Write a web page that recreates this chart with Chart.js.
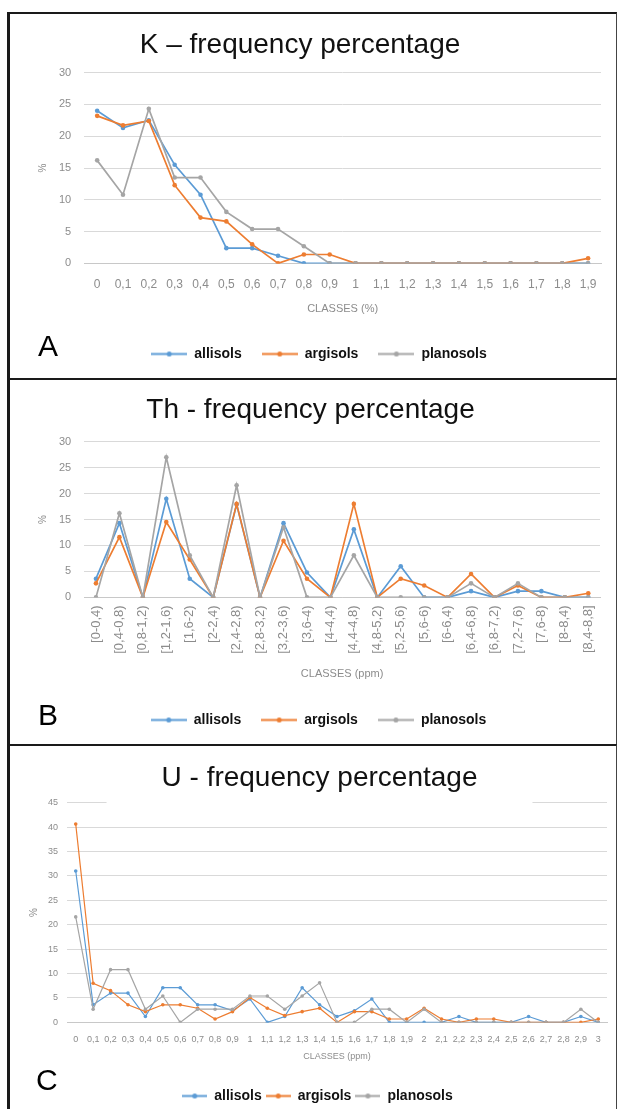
<!DOCTYPE html>
<html lang="en">
<head>
<meta charset="UTF-8">
<title>K, Th, U frequency percentage</title>
<script src="https://cdn.jsdelivr.net/npm/chart.js@4.4.0/dist/chart.umd.min.js"></script>
<style>
  body { margin: 0; background: #fff; font-family: "Liberation Sans", Arial, sans-serif; }
  .panel {
    position: absolute; left: 7px; width: 610px; box-sizing: border-box;
    border: 2px solid #1a1a1a; border-left-width: 3px; border-right: 1px solid #444;
    background: #fff;
  }
  .panel .box { position: absolute; left: 0; top: 0; right: 0; bottom: 0; }
  .letter { position: absolute; font-size: 30px; color: #000; line-height: 30px; }
</style>
</head>
<body>
  <div class="panel" style="top:12px;height:368px">
    <div class="box"><canvas id="chartK"></canvas></div>
    <div class="letter" style="left:28px;top:317px">A</div>
  </div>
  <div class="panel" style="top:378px;height:368px">
    <div class="box"><canvas id="chartTh"></canvas></div>
    <div class="letter" style="left:28px;top:320px">B</div>
  </div>
  <div class="panel" style="top:744px;height:370px">
    <div class="box"><canvas id="chartU"></canvas></div>
    <div class="letter" style="left:26px;top:319px">C</div>
  </div>

<script>
  // ---- data ----
  const seriesNames = ['allisols', 'argisols', 'planosols'];
  const seriesColors = ['#5b9bd5', '#ed7d31', '#a5a5a5'];

  const kClasses = ['0', '0,1', '0,2', '0,3', '0,4', '0,5', '0,6', '0,7', '0,8', '0,9',
    '1', '1,1', '1,2', '1,3', '1,4', '1,5', '1,6', '1,7', '1,8', '1,9'];
  const kAllisols = [24, 21.3, 22.5, 15.5, 10.8, 2.4, 2.4, 1.2, 0, 0, 0, 0, 0, 0, 0, 0, 0, 0, 0, 0];
  const kArgisols = [23.2, 21.7, 22.4, 12.3, 7.2, 6.6, 3.0, 0, 1.4, 1.4, 0, 0, 0, 0, 0, 0, 0, 0, 0, 0.8];
  const kPlanosols = [16.2, 10.8, 24.3, 13.5, 13.5, 8.1, 5.4, 5.4, 2.7, 0, 0, 0, 0, 0, 0, 0, 0, 0, 0, 0];

  const thClasses = ['[0-0,4)', '[0,4-0,8)', '[0,8-1,2)', '[1,2-1,6)', '[1,6-2)', '[2-2,4)',
    '[2,4-2,8)', '[2,8-3,2)', '[3,2-3,6)', '[3,6-4)', '[4-4,4)', '[4,4-4,8)', '[4,8-5,2)',
    '[5,2-5,6)', '[5,6-6)', '[6-6,4)', '[6,4-6,8)', '[6,8-7,2)', '[7,2-7,6)', '[7,6-8)',
    '[8-8,4)', '[8,4-8,8]'];
  const thAllisols = [3.6, 14.3, 0, 19, 3.6, 0, 17.9, 0, 14.3, 4.8, 0, 13.1, 0, 6.0, 0, 0, 1.2, 0, 1.2, 1.2, 0, 0];
  const thArgisols = [2.7, 11.6, 0, 14.5, 7.3, 0, 18.0, 0, 10.9, 3.6, 0, 18.0, 0, 3.6, 2.3, 0, 4.5, 0, 2.3, 0, 0, 0.8];
  const thPlanosols = [0, 16.2, 0, 27, 8.1, 0, 21.6, 0, 13.5, 0, 0, 8.1, 0, 0, 0, 0, 2.7, 0, 2.7, 0, 0, 0];

  const uClasses = ['0', '0,1', '0,2', '0,3', '0,4', '0,5', '0,6', '0,7', '0,8', '0,9', '1',
    '1,1', '1,2', '1,3', '1,4', '1,5', '1,6', '1,7', '1,8', '1,9', '2',
    '2,1', '2,2', '2,3', '2,4', '2,5', '2,6', '2,7', '2,8', '2,9', '3'];
  const uAllisols = [31, 3.6, 6, 6, 1.2, 7.1, 7.1, 3.6, 3.6, 2.4, 4.8, 0, 1.2, 7.1, 3.6, 1.2,
    2.4, 4.8, 0, 0, 0, 0, 1.2, 0, 0, 0, 1.2, 0, 0, 1.2, 0];
  const uArgisols = [40.6, 8, 6.5, 3.6, 2.2, 3.6, 3.6, 2.9, 0.7, 2.2, 5.1, 2.9, 1.4, 2.2, 2.9, 0,
    2.2, 2.2, 0.7, 0.7, 2.9, 0.7, 0, 0.7, 0.7, 0, 0, 0, 0, 0, 0.7];
  const uPlanosols = [21.6, 2.7, 10.8, 10.8, 2.7, 5.4, 0, 2.7, 2.7, 2.7, 5.4, 5.4, 2.7, 5.4, 8.1, 0,
    0, 2.7, 2.7, 0, 2.7, 0, 0, 0, 0, 0, 0, 0, 0, 2.7, 0];

  // ---- styling helpers ----
  const GRID = '#d9d9d9';
  const TICK = '#8c8c8c';
  const FONT = '"Liberation Sans", Arial, sans-serif';

  // legend swatch: short line with a marker in the middle, like Excel
  function makeSwatch(color, w) {
    const c = document.createElement('canvas');
    c.width = w; c.height = 7;
    const g = c.getContext('2d');
    g.strokeStyle = color; g.lineWidth = 2;
    g.beginPath(); g.moveTo(0, 3.5); g.lineTo(w, 3.5); g.stroke();
    g.fillStyle = color;
    g.beginPath(); g.arc(w / 2, 3.5, 2.5, 0, Math.PI * 2); g.fill();
    return c;
  }

  // nudges the title sideways, and can put a white box behind it
  // where it overlaps the plot (panel C)
  const titleTweak = {
    id: 'titleTweak',
    afterLayout(chart, args, opts) {
      const tb = chart.titleBlock;
      tb.left += opts.dx || 0;
      tb.right += opts.dx || 0;
    },
    afterDraw(chart, args, opts) {
      if (!opts.mask) return;
      const tb = chart.titleBlock;
      const t = chart.options.plugins.title;
      const ctx = chart.ctx;
      ctx.save();
      ctx.font = 'normal ' + t.font.size + 'px ' + FONT;
      const w = ctx.measureText(t.text).width + opts.mask * 2;
      const cx = (tb.left + tb.right) / 2;
      ctx.fillStyle = '#fff';
      ctx.fillRect(cx - w / 2, tb.top, w, chart.chartArea.top + 3 - tb.top);
      ctx.restore();
      tb.draw();
    }
  };
  Chart.register(titleTweak);

  function makeChart(id, o) {
    const data = [o.a, o.b, o.c];
    const swatches = seriesColors.map(c => makeSwatch(c, o.legendBox));
    return new Chart(document.getElementById(id), {
      type: 'line',
      data: {
        labels: o.labels,
        datasets: data.map((d, i) => ({
          label: seriesNames[i],
          data: d,
          borderColor: seriesColors[i],
          backgroundColor: seriesColors[i],
          borderWidth: o.lineWidth,
          pointRadius: o.pointRadius,
          pointHoverRadius: o.pointRadius,
          pointBorderWidth: 0,
          tension: 0,
          order: 2 - i
        }))
      },
      options: {
        responsive: true,
        maintainAspectRatio: false,
        animation: false,
        events: [],
        layout: { padding: o.padding },
        plugins: {
          title: {
            display: true,
            text: o.title,
            color: '#111',
            font: { family: FONT, size: 28, weight: 'normal', lineHeight: 1.2 },
            padding: o.titlePad
          },
          legend: {
            position: 'bottom',
            labels: {
              usePointStyle: true,
              pointStyleWidth: o.legendBox,
              padding: o.legendPad,
              color: '#111',
              font: { family: FONT, size: 14, weight: 'bold' },
              sort: (x, y) => x.datasetIndex - y.datasetIndex,
              generateLabels(chart) {
                const items = Chart.defaults.plugins.legend.labels.generateLabels(chart);
                items.forEach(it => { it.pointStyle = swatches[it.datasetIndex]; });
                return items;
              }
            }
          },
          tooltip: { enabled: false },
          titleTweak: { dx: o.titleDx, mask: o.mask }
        },
        scales: {
          x: {
            offset: true,
            grid: { display: false, drawTicks: false },
            border: { color: '#c8c8c8' },
            ticks: {
              color: TICK, autoSkip: false,
              font: { family: FONT, size: o.xTickSize },
              padding: o.xTickPad,
              maxRotation: o.rotation, minRotation: o.rotation
            },
            title: {
              display: true, text: o.xTitle, color: TICK,
              font: { family: FONT, size: o.xTitleSize },
              padding: o.xTitlePad
            }
          },
          y: {
            min: 0, max: o.yMax,
            grid: { color: GRID, drawTicks: false },
            border: { display: false },
            ticks: {
              stepSize: 5, color: TICK,
              font: { family: FONT, size: o.yTickSize },
              padding: o.yTickPad
            },
            title: {
              display: true, text: '%', color: TICK,
              font: { family: FONT, size: 10 },
              padding: { top: 0, bottom: o.yTitleGap }
            }
          }
        }
      }
    });
  }

  makeChart('chartK', {
    labels: kClasses, a: kAllisols, b: kArgisols, c: kPlanosols,
    title: 'K \u2013 frequency percentage', xTitle: 'CLASSES (%)', yMax: 30,
    lineWidth: 1.7, pointRadius: 2.3, rotation: 0,
    xTickSize: 12, yTickSize: 11, xTickPad: 14, yTickPad: 13, yTitleGap: -3, xTitleSize: 11,
    xTitlePad: { top: -3, bottom: 11 }, legendPad: 20, legendBox: 36,
    titlePad: { top: 14, bottom: 11 }, titleDx: -19,
    padding: { left: 27, right: 15, top: 0, bottom: 7 }
  });

  makeChart('chartTh', {
    labels: thClasses, a: thAllisols, b: thArgisols, c: thPlanosols,
    title: 'Th - frequency percentage', xTitle: 'CLASSES (ppm)', yMax: 30,
    lineWidth: 1.7, pointRadius: 2.3, rotation: 90,
    xTickSize: 13, yTickSize: 11, xTickPad: 8, yTickPad: 13, yTitleGap: -3, xTitleSize: 11,
    xTitlePad: { top: 6, bottom: 12 }, legendPad: 20, legendBox: 36,
    titlePad: { top: 13, bottom: 15 }, titleDx: -8,
    padding: { left: 27, right: 16, top: 0, bottom: 7 }
  });

  makeChart('chartU', {
    labels: uClasses, a: uAllisols, b: uArgisols, c: uPlanosols,
    title: 'U - frequency percentage', xTitle: 'CLASSES (ppm)', yMax: 45,
    lineWidth: 1.2, pointRadius: 1.8, rotation: 0,
    xTickSize: 9, yTickSize: 9, xTickPad: 12, yTickPad: 9, yTitleGap: -1, xTitleSize: 9,
    xTitlePad: { top: -6, bottom: 23 }, legendPad: 4, legendBox: 25,
    titlePad: { top: 15, bottom: 8 }, titleDx: 2, mask: 55,
    padding: { left: 18, right: 9, top: 0, bottom: -1 }
  });
</script>
</body>
</html>
